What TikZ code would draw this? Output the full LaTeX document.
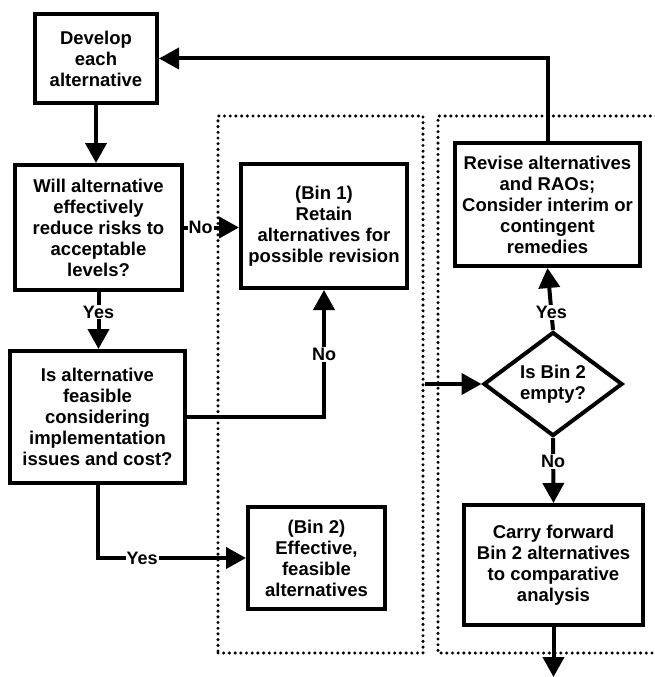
\documentclass[tikz,border=0pt]{standalone}
\usepackage{fontspec}
\setmainfont{Liberation Sans}
\usetikzlibrary{arrows.meta,shapes.geometric}
\begin{document}
\begin{tikzpicture}[x=1pt,y=-1pt,
  font=\bfseries\fontsize{18.5}{21}\selectfont,
  box/.style={draw,line width=4pt,align=center,inner sep=0pt},
  decide/.style={draw,diamond,line width=4pt,align=center,inner sep=0pt,
    minimum width=139pt,minimum height=90pt},
  dotline/.style={line width=3.4pt,line cap=round,dash pattern=on 0pt off 5.7pt},
  zone/.style={draw,dotline,inner sep=0pt},
  arr/.style={line width=4pt,-{Triangle[length=20pt,width=21pt]}},
  lbl/.style={fill=white,inner sep=1pt,font=\bfseries\fontsize{18}{20}\selectfont}]
\useasboundingbox (0,0) rectangle (655,677);

% dotted grouping regions
\node[zone,minimum width=205pt,minimum height=537pt] (zone1) at (320.5,384.5) {};
\draw[dotline] (656,116) -- (438,116) -- (438,653) -- (656,653);

% process steps
\node[box,minimum width=122pt,minimum height=89pt] (dev) at (96,58.5)
  {Develop\\each\\alternative};
\node[box,minimum width=167pt,minimum height=125pt] (will) at (98.5,227.5)
  {Will alternative\\effectively\\reduce risks to\\acceptable\\levels?};
\node[box,minimum width=166pt,minimum height=124pt] (bin1) at (324,226)
  {(Bin 1)\\Retain\\alternatives for\\possible revision};
\node[box,minimum width=175pt,minimum height=132pt] (feas) at (97.5,417)
  {Is alternative\\feasible\\considering\\implementation\\issues and cost?};
\node[box,minimum width=137pt,minimum height=102pt] (bin2) at (316.5,558)
  {(Bin 2)\\Effective,\\feasible\\alternatives};
\node[box,minimum width=185pt,minimum height=123pt] (rev) at (547.5,204.5)
  {Revise alternatives\\and RAOs;\\Consider interim or\\contingent\\remedies};
\node[decide] (dia) at (553,384) {Is Bin 2\\empty?};
\node[box,minimum width=179pt,minimum height=120pt] (carry) at (553.5,565)
  {Carry forward\\Bin 2 alternatives\\to comparative\\analysis};
\coordinate (out) at (553.5,677);

% connectors
\draw[arr] (dev.south) -- (dev.south |- will.north);
\draw[arr] (rev.north) |- (dev.east);
\draw[arr] (will.east) -- (will.east -| bin1.west)
  node[lbl,pos=0.3] (no1) {No};
\draw[arr] (will.south) -- (will.south |- feas.north)
  node[lbl,pos=0.35] (yes1) {Yes};
\draw[arr] (feas.east) -| (bin1.south)
  node[lbl,pos=0.745] (no2) {No};
\draw[arr] (feas.south) |- (bin2.west)
  node[lbl,pos=0.65] (yes2) {Yes};
\draw[arr] (zone1.east |- dia.west) -- (dia.west);
\draw[arr] (dia.north) -- (rev.south)
  node[lbl,pos=0.28] (yes3) {Yes};
\draw[arr] (dia.south) -- (carry.north)
  node[lbl,pos=0.36] (no3) {No};
\draw[arr] (carry.south) -- (out);
\end{tikzpicture}
\end{document}
